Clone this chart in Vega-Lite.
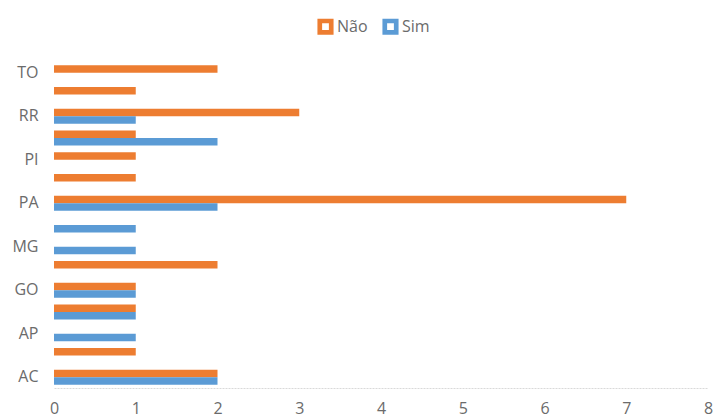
{
  "$schema": "https://vega.github.io/schema/vega-lite/v6.json",
  "width": 654,
  "height": 326,
  "autosize": {"type": "none"},
  "padding": {"left": 54, "top": 62, "right": 5, "bottom": 30},
  "background": "white",
  "config": {"view": {"stroke": null}, "font": "Open Sans"},
  "data": {
    "values": [
      {"uf": "TO", "serie": "Não", "n": 2},
      {"uf": "SP", "serie": "Não", "n": 1},
      {"uf": "RR", "serie": "Não", "n": 3},
      {"uf": "RR", "serie": "Sim", "n": 1},
      {"uf": "RJ", "serie": "Não", "n": 1},
      {"uf": "RJ", "serie": "Sim", "n": 2},
      {"uf": "PI", "serie": "Não", "n": 1},
      {"uf": "PE", "serie": "Não", "n": 1},
      {"uf": "PA", "serie": "Não", "n": 7},
      {"uf": "PA", "serie": "Sim", "n": 2},
      {"uf": "MT", "serie": "Sim", "n": 1},
      {"uf": "MG", "serie": "Sim", "n": 1},
      {"uf": "MA", "serie": "Não", "n": 2},
      {"uf": "GO", "serie": "Não", "n": 1},
      {"uf": "GO", "serie": "Sim", "n": 1},
      {"uf": "BA", "serie": "Não", "n": 1},
      {"uf": "BA", "serie": "Sim", "n": 1},
      {"uf": "AP", "serie": "Sim", "n": 1},
      {"uf": "AL", "serie": "Não", "n": 1},
      {"uf": "AC", "serie": "Não", "n": 2},
      {"uf": "AC", "serie": "Sim", "n": 2}
    ]
  },
  "mark": {"type": "bar", "strokeWidth": 0},
  "encoding": {
    "y": {
      "field": "uf",
      "type": "nominal",
      "sort": ["TO","SP","RR","RJ","PI","PE","PA","MT","MG","MA","GO","BA","AP","AL","AC"],
      "scale": {"paddingInner": 0.31, "paddingOuter": 0.155},
      "axis": {
        "title": null,
        "values": ["TO","RR","PI","PA","MG","GO","AP","AC"],
        "domain": false,
        "ticks": false,
        "labelPadding": 16,
        "labelColor": "#6B6B6B",
        "labelFontSize": 16,
        "labelFont": "Open Sans"
      }
    },
    "yOffset": {
      "field": "serie",
      "type": "nominal",
      "sort": ["Não", "Sim"],
      "scale": {"paddingInner": 0, "paddingOuter": 0}
    },
    "x": {
      "field": "n",
      "type": "quantitative",
      "scale": {"domain": [0, 8]},
      "axis": {
        "title": null,
        "values": [0,1,2,3,4,5,6,7,8],
        "grid": false,
        "ticks": false,
        "labelFlush": false,
        "domainColor": "#D9D9D9",
        "domainDash": [2, 1],
        "labelPadding": 12,
        "labelColor": "#6B6B6B",
        "labelFontSize": 16,
        "labelFont": "Open Sans"
      }
    },
    "color": {
      "field": "serie",
      "type": "nominal",
      "sort": ["Não", "Sim"],
      "scale": {"domain": ["Não", "Sim"], "range": ["#ED7D31", "#5B9BD5"]},
      "legend": {
        "title": null,
        "orient": "none",
        "direction": "horizontal",
        "legendX": 263,
        "legendY": -44,
        "symbolType": "M-1,-1H1V1H-1Z M-0.42,-0.42V0.42H0.42V-0.42Z",
        "symbolSize": 260,
        "symbolStrokeWidth": 0,
        "labelColor": "#6B6B6B",
        "labelFontSize": 16,
        "labelFont": "Open Sans",
        "labelOffset": 3,
        "columnPadding": 14
      }
    }
  }
}
